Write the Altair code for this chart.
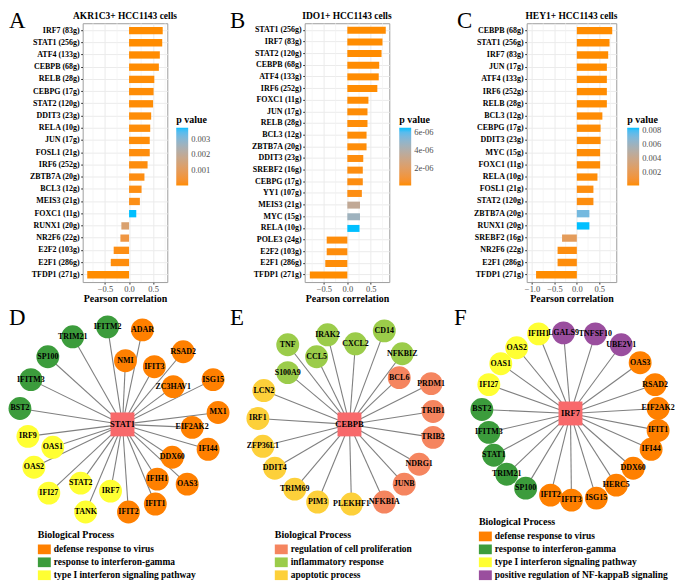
import altair as alt
import pandas as pd

FONT = "Liberation Serif"
LOW, HIGH = "#FF8C00", "#00BFFF"

# ---------------- Panel A: AKR1C3+ HCC1143 cells ----------------
a_tf = ["IRF7 (83g)", "STAT1 (256g)", "ATF4 (133g)", "CEBPB (68g)", "RELB (28g)", "CEBPG (17g)",
        "STAT2 (120g)", "DDIT3 (23g)", "RELA (10g)", "JUN (17g)", "FOSL1 (21g)", "IRF6 (252g)",
        "ZBTB7A (20g)", "BCL3 (12g)", "MEIS3 (21g)", "FOXC1 (11g)", "RUNX1 (20g)", "NR2F6 (22g)",
        "E2F2 (103g)", "E2F1 (286g)", "TFDP1 (271g)"]
a_r = [0.70, 0.69, 0.64, 0.62, 0.525, 0.51, 0.50, 0.46, 0.44, 0.43, 0.43, 0.385,
       0.32, 0.26, 0.225, 0.15, -0.16, -0.18, -0.32, -0.38, -0.87]
a_p = [1e-5, 1e-5, 2e-5, 2e-5, 3e-5, 3e-5, 3e-5, 4e-5, 5e-5, 5e-5, 6e-5, 7e-5,
       9e-5, 1.0e-4, 1.2e-4, 3.7e-3, 1.3e-3, 6e-4, 1e-4, 6e-5, 1e-5]
a_xdomain = [-0.965, 0.795]
a_ticks = [-0.5, 0.0, 0.5]
a_minor = [-0.75, -0.25, 0.25, 0.75]
a_pticks = [0.001, 0.002, 0.003]

# ---------------- Panel B: IDO1+ HCC1143 cells ----------------
b_tf = ["STAT1 (256g)", "IRF7 (83g)", "STAT2 (120g)", "CEBPB (68g)", "ATF4 (133g)", "IRF6 (252g)",
        "FOXC1 (11g)", "JUN (17g)", "RELB (28g)", "BCL3 (12g)", "ZBTB7A (20g)", "DDIT3 (23g)",
        "SREBF2 (16g)", "CEBPG (17g)", "YY1 (107g)", "MEIS3 (21g)", "MYC (15g)", "RELA (10g)",
        "POLE3 (24g)", "E2F2 (103g)", "E2F1 (286g)", "TFDP1 (271g)"]
b_r = [0.82, 0.75, 0.73, 0.68, 0.67, 0.64, 0.45, 0.43, 0.43, 0.41, 0.41, 0.34,
       0.33, 0.33, 0.31, 0.27, 0.27, 0.26, -0.44, -0.44, -0.47, -0.80]
b_p = [1e-10, 1e-9, 1e-9, 5e-9, 5e-9, 1e-8, 3e-8, 4e-8, 5e-8, 6e-8, 7e-8, 1e-7,
       1.2e-7, 1.3e-7, 1.6e-7, 3.4e-6, 4.6e-6, 6.5e-6, 8e-8, 9e-8, 6e-8, 1e-10]
b_xdomain = [-0.91, 0.895]
b_ticks = [-0.5, 0.0, 0.5]
b_minor = [-0.75, -0.25, 0.25, 0.75]
b_pticks = [2e-6, 4e-6, 6e-6]

# ---------------- Panel C: HEY1+ HCC1143 cells ----------------
c_tf = ["CEBPB (68g)", "STAT1 (256g)", "IRF7 (83g)", "JUN (17g)", "ATF4 (133g)", "IRF6 (252g)",
        "RELB (28g)", "BCL3 (12g)", "CEBPG (17g)", "DDIT3 (23g)", "MYC (15g)", "FOXC1 (11g)",
        "RELA (10g)", "FOSL1 (21g)", "STAT2 (120g)", "ZBTB7A (20g)", "RUNX1 (20g)", "SREBF2 (16g)",
        "NR2F6 (22g)", "E2F1 (286g)", "TFDP1 (271g)"]
c_r = [0.79, 0.73, 0.70, 0.67, 0.67, 0.67, 0.67, 0.57, 0.53, 0.53, 0.52, 0.52,
       0.46, 0.37, 0.37, 0.28, 0.28, -0.33, -0.43, -0.43, -0.91]
c_p = [1e-5, 1e-5, 2e-5, 2e-5, 2e-5, 2e-5, 2e-5, 5e-5, 6e-5, 6e-5, 7e-5, 7e-5,
       1e-4, 1.5e-4, 1.5e-4, 7.2e-3, 8.4e-3, 2.2e-3, 1.5e-4, 1.2e-4, 1e-5]
c_xdomain = [-1.12, 0.88]
c_ticks = [-1.0, -0.5, 0.0, 0.5]
c_minor = [-0.75, -0.25, 0.25, 0.75]
c_pticks = [0.002, 0.004, 0.006, 0.008]

# ---------------- Networks ----------------
DEF = "defense response to virus"
IFG = "response to interferon-gamma"
T1 = "type I interferon signaling pathway"
NFK = "positive regulation of NF-kappaB signaling"
PRO = "regulation of cell proliferation"
INF = "inflammatory response"
APO = "apoptotic process"

d_names = ["IFITM2", "TRIM21", "ADAR", "RSAD2", "NMI", "IFIT3", "SP100", "ISG15", "ZC3HAV1",
           "IFITM3", "BST2", "MX1", "EIF2AK2", "IRF9", "OAS1", "IFI44", "DDX60", "OAS2",
           "IFIH1", "OAS3", "STAT2", "IRF7", "IFI27", "IFIT1", "TANK", "IFIT2"]
d_groups = [IFG, IFG, DEF, DEF, DEF, DEF, IFG, DEF, DEF, IFG, IFG, DEF, DEF, T1, T1, DEF, DEF, T1,
            DEF, DEF, T1, T1, T1, DEF, T1, DEF]
d_x = [-15, -50, 20, 61, 3, 32, -75, 91, 51, -92, -103, 96, 70, -95, -70, 86, 50, -89,
       35, 65, -42, -12, -74, 33, -37, 6]
d_y = [98, 88, 95, 73, 64, 58, 68, 45, 38, 45, 16, 12, -3, -12, -23, -25, -33, -43,
       -55, -60, -59, -67, -69, -80, -88, -88]
d_domain = [DEF, IFG, T1]
d_colors = ["#FF8000", "#3C9C3C", "#FFFF33"]

e_names = ["TNF", "IRAK2", "CD14", "CXCL2", "CCL5", "NFKBIZ", "S100A9", "BCL6", "PRDM1", "LCN2",
           "TRIB1", "IRF1", "TRIB2", "ZFP36L1", "NDRG1", "DDIT4", "JUNB", "TRIM69", "PIM3",
           "PLEKHF1", "NFKBIA"]
e_groups = [INF, INF, INF, INF, INF, INF, INF, PRO, PRO, APO, PRO, APO, PRO, APO, PRO, APO, PRO,
            APO, APO, APO, PRO]
e_x = [-62, -22, 35, 6, -33, 53, -62, 50, 82, -86, 84, -92, 84, -87, 70, -75, 55, -55, -32, 2, 35]
e_y = [80, 90, 94, 81, 68, 71, 52, 47, 41, 34, 13, 6, -13, -22, -40, -44, -60, -65, -78, -80, -78]
e_domain = [PRO, INF, APO]
e_colors = ["#F5855F", "#9BCC4A", "#FDD03A"]

f_names = ["IFIH1", "LGALS9", "TNFSF10", "UBE2V1", "OAS2", "OAS3", "OAS1", "RSAD2", "IFI27",
           "EIF2AK2", "BST2", "IFIT1", "IFITM3", "IFI44", "STAT1", "DDX60", "TRIM21", "HERC5",
           "SP100", "IFIT2", "ISG15", "IFIT3"]
f_groups = [T1, NFK, NFK, NFK, T1, DEF, T1, DEF, T1, DEF, IFG, DEF, IFG, DEF, IFG, DEF, IFG, DEF,
            IFG, DEF, DEF, DEF]
f_x = [-32, -7, 25, 51, -54, 70, -70, 85, -82, 88, -89, 88, -82, 81, -77, 63, -64, 46, -45, -20, 26, 1]
f_y = [80, 81, 80, 69, 66, 51, 50, 29, 29, 5, 4, -17, -19, -36, -42, -55, -61, -72, -75, -82, -85, -87]
f_domain = [DEF, IFG, T1, NFK]
f_colors = ["#FF8000", "#3C9C3C", "#FFFF33", "#9A4E9E"]

CENTER_COLOR = "#F8696B"
RECT = "M-1,-0.75L1,-0.75L1,0.75L-1,0.75Z"
LETTER_DY = 5


def text_layer(txt, dx, dy, size, weight="normal", align="left", baseline="alphabetic"):
    return alt.Chart(pd.DataFrame({"t": [txt]})).mark_text(
        align=align, baseline=baseline, font=FONT, fontSize=size, fontWeight=weight, color="black"
    ).encode(x=alt.value(dx), y=alt.value(dy), text="t:N")


def bar_panel(letter, letter_dx, title, tfs, r, p, xdomain, ticks, minor, pticks, legx, width,
              pexpr=None, pfmt=".3f"):
    df = pd.DataFrame({"tf": tfs, "r": r, "p": p})
    xscale = alt.Scale(domain=xdomain, nice=False, zero=False)
    xaxis = alt.Axis(values=ticks, format=".1f", grid=True, gridColor="#EBEBEB", gridWidth=1,
                     labelFont=FONT, labelFontSize=8.5, labelColor="#4D4D4D", tickColor="#333333",
                     tickSize=2, labelPadding=0.5, domain=False, title="Pearson correlation",
                     titleFont=FONT, titleFontSize=10, titleFontWeight="bold", titleColor="black",
                     titlePadding=1)
    yaxis = alt.Axis(title=None, labelFont=FONT, labelFontSize=8, labelFontWeight="bold",
                     labelColor="black", tickColor="#333333", tickSize=2, grid=True,
                     gridColor="#EBEBEB", gridWidth=1, bandPosition=0.5, domain=False,
                     labelPadding=1.5)
    leg = dict(title="p value", orient="none", legendX=legx, legendY=92, direction="vertical",
               gradientLength=58, gradientThickness=12, gradientStrokeWidth=0,
               titleFont=FONT, titleFontSize=10, titleFontWeight="bold", titleColor="black",
               titlePadding=3, labelFont=FONT, labelFontSize=8.5, labelColor="#4D4D4D",
               labelOffset=3, values=pticks, padding=0)
    if pexpr:
        leg["labelExpr"] = pexpr
    else:
        leg["format"] = pfmt
    minor_grid = alt.Chart(pd.DataFrame({"v": minor})).mark_rule(
        color="#F0F0F0", strokeWidth=0.7
    ).encode(x=alt.X("v:Q", scale=xscale, axis=xaxis))
    bars = alt.Chart(df).mark_bar(strokeWidth=0).encode(
        x=alt.X("r:Q", scale=xscale, axis=xaxis),
        x2=alt.X2Datum(0),
        y=alt.Y("tf:N", sort=tfs, scale=alt.Scale(paddingInner=0.4, paddingOuter=0.3), axis=yaxis),
        color=alt.Color("p:Q", scale=alt.Scale(range=[LOW, HIGH], interpolate="lab", nice=False,
                                               zero=False),
                        legend=alt.Legend(**leg)),
    )
    return alt.layer(
        minor_grid, bars,
        text_layer(letter, letter_dx, LETTER_DY, 23),
        text_layer(title, width / 2, -2.5, 9.5, weight="bold", align="center", baseline="bottom"),
    ).properties(
        width=width, height=260,
        view=alt.ViewBackground(stroke="#9E9E9E", strokeWidth=1),
    )


def network_panel(letter, letter_dx, center, names, groups, xs, ys, gdomain, gcolors,
                  xdomain, ydomain, width, legx, legy):
    df = pd.DataFrame({"name": names, "group": groups, "x": xs, "y": ys,
                       "ox": [0] * len(names), "oy": [0] * len(names)})
    cdf = pd.DataFrame({"name": [center], "x": [0], "y": [0]})
    X = alt.X("x:Q", scale=alt.Scale(domain=xdomain, nice=False, zero=False), axis=None)
    Y = alt.Y("y:Q", scale=alt.Scale(domain=ydomain, nice=False, zero=False), axis=None)
    edges = alt.Chart(df).mark_rule(color="#808080", strokeWidth=1.1).encode(
        x=X, y=Y, x2="ox:Q", y2="oy:Q")
    nodes = alt.Chart(df).mark_circle(size=529, opacity=1).encode(
        x=X, y=Y,
        color=alt.Color("group:N", scale=alt.Scale(domain=gdomain, range=gcolors),
                        legend=alt.Legend(title="Biological Process", orient="none",
                                          legendX=legx, legendY=legy, direction="vertical",
                                          symbolType=RECT, symbolSize=169, symbolStrokeWidth=0,
                                          symbolOpacity=1, labelFont=FONT, labelFontSize=9.5,
                                          labelFontWeight="bold", labelColor="black",
                                          labelOffset=3, labelLimit=400, titleFont=FONT,
                                          titleFontSize=10, titleFontWeight="bold",
                                          titleColor="black", titlePadding=3, rowPadding=1,
                                          padding=0)))
    labels = alt.Chart(df).mark_text(font=FONT, fontSize=8, fontWeight="bold", color="black").encode(
        x=X, y=Y, text="name:N")
    csq = alt.Chart(cdf).mark_square(size=576, color=CENTER_COLOR, opacity=1).encode(x=X, y=Y)
    ctext = alt.Chart(cdf).mark_text(font=FONT, fontSize=8.5, fontWeight="bold", color="black").encode(
        x=X, y=Y, text="name:N")
    return alt.layer(edges, nodes, labels, csq, ctext,
                     text_layer(letter, letter_dx, 5, 23)).properties(width=width, height=202)


A = bar_panel("A", -74, "AKR1C3+ HCC1143 cells", a_tf, a_r, a_p, a_xdomain, a_ticks, a_minor,
              a_pticks, 94, 85)
B = bar_panel("B", -75, "IDO1+ HCC1143 cells", b_tf, b_r, b_p, b_xdomain, b_ticks, b_minor,
              b_pticks, 95, 85, pexpr="format(datum.value*1e6, 'd') + 'e-06'")
C = bar_panel("C", -70, "HEY1+ HCC1143 cells", c_tf, c_r, c_p, c_xdomain, c_ticks, c_minor,
              c_pticks, 101, 90)

# D's plot area starts where A's does; nodes left of it spill outside the frame
D = network_panel("D", -74, "STAT1", d_names, d_groups, d_x, d_y, d_domain, d_colors,
                  [-40, 110], [-97, 105], 150, -45, 211)
E = network_panel("E", -10, "CEBPB", e_names, e_groups, e_x, e_y, e_domain, e_colors,
                  [-110, 100], [-97, 105], 210, 35, 211)
F = network_panel("F", -3, "IRF7", f_names, f_groups, f_x, f_y, f_domain, f_colors,
                  [-114, 104], [-108, 94], 218, 22, 198)

top = alt.hconcat(A, B, C, spacing=138, bounds="flush").resolve_scale(
    color="independent", x="independent", y="independent")
bottom = alt.hconcat(D, E, F, spacing=8, bounds="flush").resolve_scale(
    color="independent", x="independent", y="independent")

chart = alt.vconcat(top, bottom, spacing=2).resolve_scale(
    color="independent", x="independent", y="independent"
).properties(padding=0).configure(font=FONT).configure_view(stroke=None)

chart.save("out.html", embed_options={"renderer": "svg", "actions": False})
